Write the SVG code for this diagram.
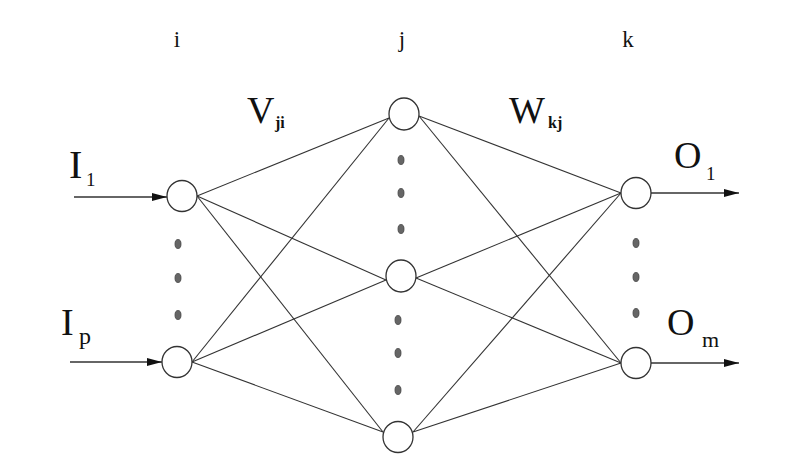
<svg xmlns="http://www.w3.org/2000/svg" width="800" height="466" viewBox="0 0 800 466">
<style>
.node{fill:#fff;stroke:#333;stroke-width:1.3}
.edge{stroke:#333;stroke-width:1.1;fill:none}
.arrow{stroke:#333;stroke-width:1.3;fill:none}
.dot{fill:#666;stroke:#444;stroke-width:0.8}
text{font-family:'Liberation Serif','DejaVu Serif',serif;fill:#111}
.sub{font-weight:bold}
</style>
<defs>
<marker id="ah" markerWidth="16" markerHeight="10" refX="15" refY="5" orient="auto" markerUnits="userSpaceOnUse">
<path d="M0,1 L15,5 L0,9 Z" fill="#111"/>
</marker>
</defs>
<rect width="800" height="466" fill="#fff"/>
<g id="layer-labels">
<text x="177" y="47" font-size="23" text-anchor="middle" font-family="Liberation Serif, serif">i</text>
<text x="402" y="47" font-size="23" text-anchor="middle" font-family="Liberation Serif, serif">j</text>
<text x="628" y="47" font-size="23" text-anchor="middle" font-family="Liberation Serif, serif">k</text>
</g>
<g id="connectors">
<line class="edge" x1="197" y1="196" x2="389" y2="118"/>
<line class="edge" x1="197" y1="196" x2="386" y2="280"/>
<line class="edge" x1="197" y1="196" x2="383" y2="432"/>
<line class="edge" x1="192" y1="362" x2="389" y2="118"/>
<line class="edge" x1="192" y1="362" x2="386" y2="280"/>
<line class="edge" x1="192" y1="362" x2="383" y2="432"/>
<line class="edge" x1="419" y1="116" x2="621" y2="193"/>
<line class="edge" x1="419" y1="116" x2="621" y2="363"/>
<line class="edge" x1="416" y1="278" x2="621" y2="193"/>
<line class="edge" x1="416" y1="278" x2="621" y2="363"/>
<line class="edge" x1="413" y1="432" x2="621" y2="193"/>
<line class="edge" x1="413" y1="432" x2="621" y2="363"/>
<line class="arrow" x1="74" y1="197" x2="167" y2="197" marker-end="url(#ah)"/>
<line class="arrow" x1="70" y1="362" x2="162" y2="362" marker-end="url(#ah)"/>
<line class="arrow" x1="651" y1="193" x2="739" y2="193" marker-end="url(#ah)"/>
<line class="arrow" x1="651" y1="363" x2="739" y2="363" marker-end="url(#ah)"/>
</g>
<g id="input-1">
<ellipse class="node" cx="182" cy="196" rx="15" ry="15.5"/>
<text x="69" y="178" font-size="40" font-family="Liberation Serif, serif">I</text>
<text x="86" y="186" font-size="19" font-family="Liberation Serif, serif">1</text>
</g>
<g id="input-p">
<ellipse class="node" cx="177" cy="362" rx="15" ry="15.5"/>
<text x="61" y="335" font-size="38" font-family="Liberation Serif, serif">I</text>
<text x="79" y="344" font-size="24" font-family="Liberation Serif, serif">p</text>
</g>
<g id="input-dots">
<ellipse class="dot" cx="178" cy="244" rx="3" ry="4.5"/>
<ellipse class="dot" cx="178" cy="278" rx="3" ry="4.5"/>
<ellipse class="dot" cx="178" cy="315" rx="3" ry="4.5"/>
</g>
<g id="hidden-1">
<ellipse class="node" cx="404" cy="114" rx="15" ry="16"/>
</g>
<g id="hidden-2">
<ellipse class="node" cx="401" cy="276" rx="15" ry="16"/>
</g>
<g id="hidden-3">
<ellipse class="node" cx="398" cy="437" rx="15" ry="15.5"/>
</g>
<g id="hidden-dots">
<ellipse class="dot" cx="401" cy="160" rx="3" ry="4.5"/>
<ellipse class="dot" cx="401" cy="193" rx="3" ry="4.5"/>
<ellipse class="dot" cx="401" cy="229" rx="3" ry="4.5"/>
<ellipse class="dot" cx="398" cy="320" rx="3" ry="4.5"/>
<ellipse class="dot" cx="398" cy="353" rx="3" ry="4.5"/>
<ellipse class="dot" cx="398" cy="390" rx="3" ry="4.5"/>
</g>
<g id="output-1">
<ellipse class="node" cx="636" cy="193" rx="15" ry="15.5"/>
<text x="674" y="168" font-size="38" font-family="Liberation Serif, serif">O</text>
<text x="706" y="180" font-size="19" font-family="Liberation Serif, serif">1</text>
</g>
<g id="output-m">
<ellipse class="node" cx="636" cy="363" rx="15" ry="15.5"/>
<text x="667" y="335" font-size="38" font-family="Liberation Serif, serif">O</text>
<text x="702" y="347" font-size="22" font-family="Liberation Serif, serif">m</text>
</g>
<g id="output-dots">
<ellipse class="dot" cx="636" cy="243" rx="3" ry="4.5"/>
<ellipse class="dot" cx="636" cy="277" rx="3" ry="4.5"/>
<ellipse class="dot" cx="636" cy="313" rx="3" ry="4.5"/>
</g>
<g id="weight-labels">
<text x="247" y="123" font-size="38" font-family="Liberation Serif, serif">V</text>
<text class="sub" x="275" y="128" font-size="16" font-family="Liberation Serif, serif">ji</text>
<text x="509" y="123" font-size="38" font-family="Liberation Serif, serif">W</text>
<text class="sub" x="548" y="128" font-size="16" font-family="Liberation Serif, serif">kj</text>
</g>
</svg>
